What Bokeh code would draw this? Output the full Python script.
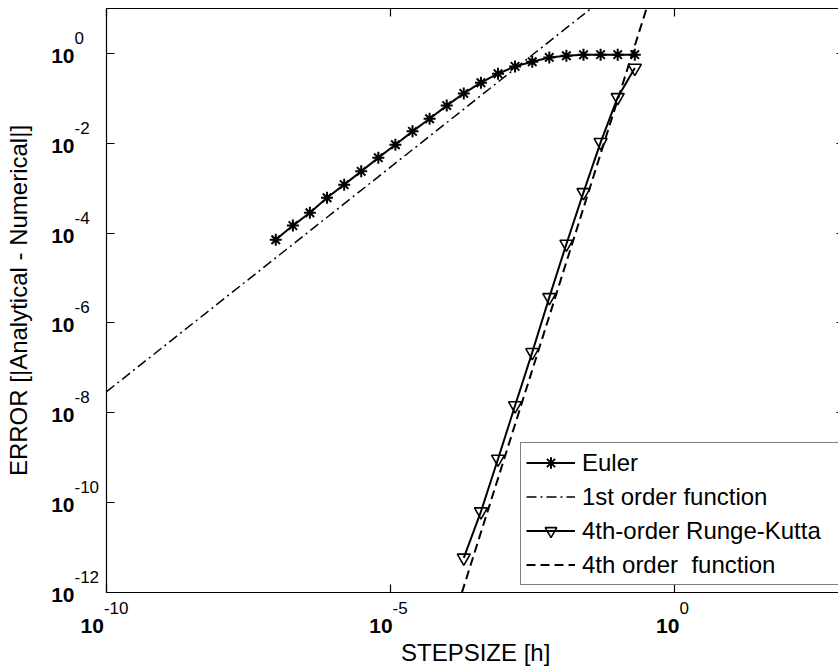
import math
from bokeh.plotting import figure
from bokeh.models import (FixedTicker, LogAxis, Label, Legend, LegendItem, Range1d,
                          CustomJSTickFormatter)
from bokeh.embed import file_html
from bokeh.resources import INLINE

# ---------------- data ----------------
euler_h = [9.54e-8, 1.91e-7, 3.81e-7, 7.63e-7, 1.53e-6, 3.05e-6, 6.10e-6,
           1.22e-5, 2.44e-5, 4.88e-5, 9.77e-5, 1.95e-4, 3.91e-4, 7.81e-4,
           1.56e-3, 3.13e-3, 6.25e-3, 1.25e-2, 2.5e-2, 0.05, 0.1, 0.2]
euler_err = [7.1e-5, 1.47e-4, 2.85e-4, 6.15e-4, 1.20e-3, 2.37e-3, 4.78e-3,
             9.29e-3, 1.84e-2, 3.52e-2, 6.9e-2, 0.129, 0.223, 0.353,
             0.514, 0.653, 0.815, 0.889, 0.935, 0.94, 0.94, 0.94]

rk_h = [1.95e-4, 3.91e-4, 7.81e-4, 1.56e-3, 3.13e-3, 6.25e-3, 1.25e-2,
        2.5e-2, 0.05, 0.1, 0.2]
rk_err = [5.9e-12, 6.3e-11, 9.4e-10, 1.45e-8, 2.22e-7, 3.72e-6, 5.74e-5,
          8.07e-4, 1.05e-2, 0.105, 0.473]

first_order_h = [1e-10, 0.0339]
first_order_err = [2.95e-8, 10.0]

fourth_order_h = [1.81e-4, 0.322]
fourth_order_err = [1e-12, 10.0]

x_min, x_max = 1e-10, 1e3          # axis limits
y_min, y_max = 1e-12, 1e1
x_ticks = [1e-10, 1e-5, 1.0]
x_tick_exp = ["-10", "-5", "0"]
y_ticks = [1e-12, 1e-10, 1e-8, 1e-6, 1e-4, 1e-2, 1.0]
y_tick_exp = ["-12", "-10", "-8", "-6", "-4", "-2", "0"]

x_title = "STEPSIZE [h]"
y_title = "ERROR [|Analytical - Numerical|]"
labels = ["Euler", "1st order function", "4th-order Runge-Kutta", "4th order  function"]

# ---------------- layout ----------------
W, H = 838, 671
AX_L, AX_T, AX_B = 106, 8, 592      # pixel edges of the axes box
PXD_X = 56.8                        # pixels per decade (x)
PXD_Y = (AX_B - AX_T) / (math.log10(y_max) - math.log10(y_min))
lx0 = math.log10(x_min) - AX_L / PXD_X
lx1 = math.log10(x_min) + (W - AX_L) / PXD_X
ly1 = math.log10(y_max) + AX_T / PXD_Y
ly0 = math.log10(y_min) - (H - AX_B) / PXD_Y
FONT = "Liberation Sans"

p = figure(width=W, height=H, x_axis_type="log", y_axis_type="log",
           x_range=Range1d(10 ** lx0, 10 ** lx1), y_range=Range1d(10 ** ly0, 10 ** ly1),
           x_axis_location=None, y_axis_location=None,
           output_backend="svg", toolbar_location=None,
           min_border=0)
p.grid.visible = False
p.outline_line_color = None
p.background_fill_color = "white"
p.border_fill_color = "white"

def make_axis(ticks, loc, bounds):
    ax = LogAxis(ticker=FixedTicker(ticks=ticks), fixed_location=loc, bounds=bounds)
    ax.major_tick_in = 8
    ax.major_tick_out = 0
    ax.minor_tick_line_color = None
    ax.formatter = CustomJSTickFormatter(code="return ''")
    ax.major_label_text_font_size = "1px"
    ax.major_label_standoff = 0
    ax.axis_line_color = "black"
    ax.axis_line_width = 1.2
    ax.major_tick_line_color = "black"
    ax.major_tick_line_width = 1.2
    return ax

p.add_layout(make_axis(x_ticks, y_min, (x_min, x_max)), "below")
p.add_layout(make_axis(x_ticks, y_max, (x_min, x_max)), "above")
p.add_layout(make_axis(y_ticks, x_min, (y_min, y_max)), "left")
p.add_layout(make_axis(y_ticks, x_max, (y_min, y_max)), "right")

# ---------------- curves ----------------
euler_line = p.line(euler_h, euler_err, line_color="black", line_width=2)
euler_pts = p.scatter(euler_h, euler_err, marker="asterisk", size=12,
                      line_color="black", line_width=2)
first_line = p.line(first_order_h, first_order_err, line_color="black",
                    line_width=1.5, line_dash="10 4 2 4")
rk_line = p.line(rk_h, rk_err, line_color="black", line_width=2)
rk_pts = p.scatter(rk_h, rk_err, marker="inverted_triangle", size=13,
                   line_color="black", line_width=1.6, fill_color=None)
fourth_line = p.line(fourth_order_h, fourth_order_err, line_color="black",
                     line_width=2, line_dash="9 5")

# ---------------- tick labels ----------------
W10 = 0.556 * 2 * 21
def exp_w(s):
    return sum(0.333 if c == "-" else 0.556 for c in s) * 17

for t, e in zip(x_ticks, x_tick_exp):
    j = (W10 - exp_w(e)) / 2 - 2
    p.add_layout(Label(x=t, y=y_min, text="10", text_align="right",
                       text_baseline="alphabetic", x_offset=j, y_offset=-33,
                       text_font=FONT, text_font_style="bold",
                       text_font_size="21px", text_color="black"))
    p.add_layout(Label(x=t, y=y_min, text=e, text_align="left",
                       text_baseline="alphabetic", x_offset=j, y_offset=-15.5,
                       text_font=FONT, text_font_size="17px",
                       text_color="black"))

for t, e in zip(y_ticks, y_tick_exp):
    p.add_layout(Label(x=x_min, y=t, text="10", text_align="right",
                       text_baseline="alphabetic", x_offset=-32, y_offset=-2.5,
                       text_font=FONT, text_font_style="bold",
                       text_font_size="21px", text_color="black"))
    p.add_layout(Label(x=x_min, y=t, text=e, text_align="left",
                       text_baseline="alphabetic", x_offset=-32, y_offset=15.5,
                       text_font=FONT, text_font_size="17px",
                       text_color="black"))

# ---------------- axis titles ----------------
x_mid = 10 ** ((math.log10(x_min) + math.log10(x_max)) / 2)
y_mid = 10 ** ((math.log10(y_min) + math.log10(y_max)) / 2)
p.add_layout(Label(x=x_mid, y=y_min, text=x_title, text_align="center",
                   text_baseline="alphabetic", y_offset=-60,
                   text_font=FONT, text_font_size="24px", text_color="black"))
p.add_layout(Label(x=x_min, y=y_mid, text=y_title, text_align="center",
                   text_baseline="alphabetic", x_offset=-88, angle=math.pi / 2,
                   text_font=FONT, text_font_size="24px", text_color="black"))

# ---------------- legend ----------------
legend = Legend(items=[
    LegendItem(label=labels[0], renderers=[euler_line, euler_pts]),
    LegendItem(label=labels[1], renderers=[first_line]),
    LegendItem(label=labels[2], renderers=[rk_line, rk_pts]),
    LegendItem(label=labels[3], renderers=[fourth_line]),
], location=(520, H - 585))
legend.glyph_width = 49
legend.glyph_height = 29
legend.label_height = 29
legend.label_width = 275
legend.spacing = 5
legend.padding = 5
legend.margin = 0
legend.label_standoff = 7
legend.label_text_font = FONT
legend.label_text_font_size = "24px"
legend.label_text_color = "black"
legend.border_line_color = "black"
legend.border_line_width = 1.2
legend.background_fill_color = "white"
legend.background_fill_alpha = 1.0
p.add_layout(legend)

open("out.html", "w").write(file_html(p, INLINE))
